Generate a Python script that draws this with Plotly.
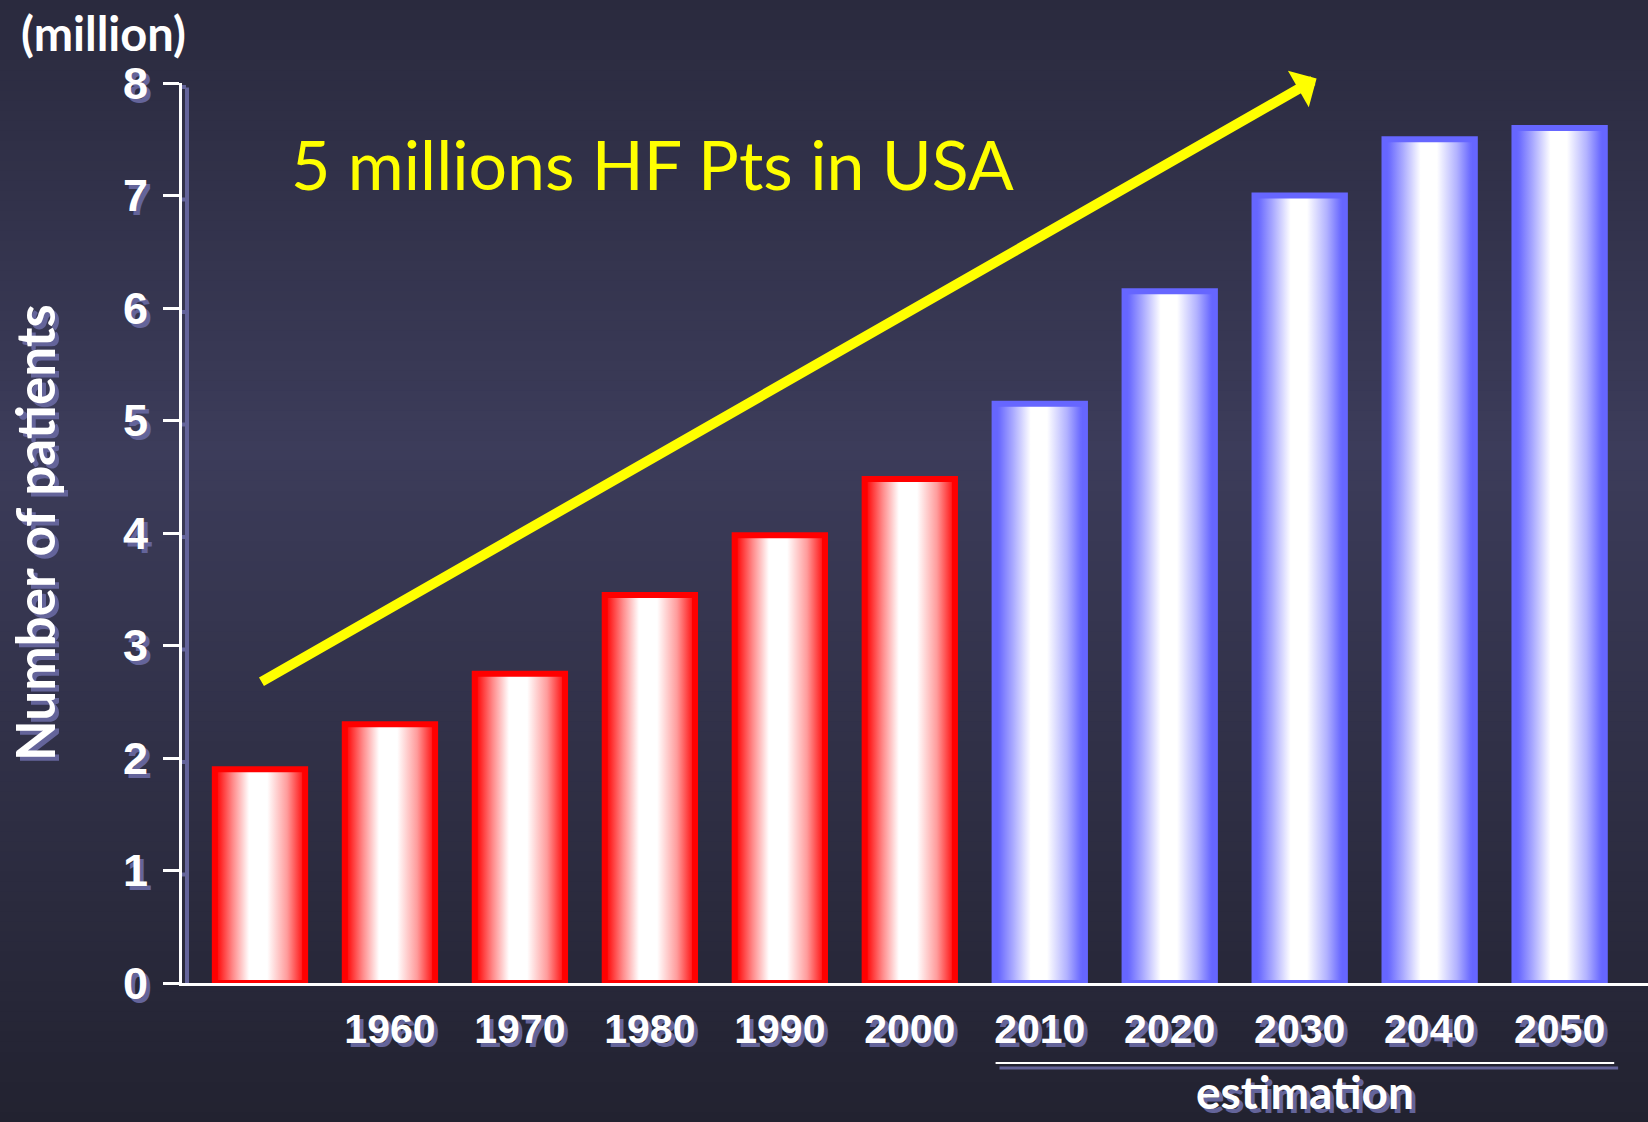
import plotly.graph_objects as go

# ---- data -------------------------------------------------------------
years_observed = [1950, 1960, 1970, 1980, 1990, 2000]
patients_observed = [1.9, 2.3, 2.75, 3.45, 3.98, 4.48]
years_estimated = [2010, 2020, 2030, 2040, 2050]
patients_estimated = [5.15, 6.15, 7.0, 7.5, 7.6]
x_tick_years = [1960, 1970, 1980, 1990, 2000, 2010, 2020, 2030, 2040, 2050]
y_ticks = [0, 1, 2, 3, 4, 5, 6, 7, 8]

# trend arrow (from, to) in data units
arrow_start = (1950, 2.67)
arrow_end = (2031.3, 8.04)

# ---- style ------------------------------------------------------------
W, H = 1648, 1122
M_L, M_R, M_T, M_B = 182, 0, 83, 139
PLOT_W = W - M_L - M_R
PLOT_H = H - M_T - M_B
X_RANGE = [1944, 2056.8]
Y_RANGE = [0, 8]
BAR_W = 6.95
SHADOW = "#64649a"
SHADOW_TXT = "4px 4px 0px #64649a"

RED = "#ff0000"
BLUE = "#6666ff"
red_scale = [[0, "#ff0000"], [0.05, "#ff1c1c"], [0.2, "#ff8a8a"], [0.38, "#ffffff"],
             [0.58, "#ffffff"], [0.8, "#ff9c9c"], [0.95, "#ff2a2a"], [1, "#ff0000"]]
blue_scale = [[0, "#6666ff"], [0.05, "#6b6bff"], [0.2, "#a8a8ff"], [0.4, "#ffffff"],
              [0.58, "#ffffff"], [0.8, "#b2b2ff"], [0.95, "#6c6cff"], [1, "#6666ff"]]

# background: vertical gradient keyframes (pixel-y fraction, rgb)
bg_keys = [(0.0, (42, 42, 62)), (0.4, (60, 60, 90)), (1.0, (34, 34, 48))]


def bg_color(t):
    for (t0, c0), (t1, c1) in zip(bg_keys[:-1], bg_keys[1:]):
        if t0 <= t <= t1:
            f = (t - t0) / (t1 - t0)
            c = [round(a + (b - a) * f) for a, b in zip(c0, c1)]
            return "rgb({},{},{})".format(*c)
    return "rgb({},{},{})".format(*bg_keys[-1][1])


def paper_x(px):
    return (px - M_L) / PLOT_W


def paper_y(py):
    return (H - M_B - py) / PLOT_H


fig = go.Figure()


def add_bars(xs, vals, scale, edge):
    for x, v in zip(xs, vals):
        x0, x1 = x - BAR_W / 2, x + BAR_W / 2
        fig.add_trace(go.Scatter(
            x=[x0, x0, x1, x1, x0], y=[0, v, v, 0, 0],
            mode="lines", fill="toself",
            fillgradient=dict(type="horizontal", colorscale=scale),
            line=dict(color=edge, width=6),
            hoverinfo="skip", showlegend=False,
        ))


add_bars(years_observed, patients_observed, red_scale, RED)
add_bars(years_estimated, patients_estimated, blue_scale, BLUE)

shapes = []
# background stripes
n_str = 112
for i in range(n_str):
    p0 = i * H / n_str
    p1 = (i + 1) * H / n_str + 1
    shapes.append(dict(type="rect", xref="paper", yref="paper", layer="below",
                       x0=paper_x(0), x1=paper_x(W), y0=paper_y(p1), y1=paper_y(p0),
                       line=dict(width=0), fillcolor=bg_color((p0 + p1) / 2 / H)))

# axis shadows
shapes.append(dict(type="line", layer="below", xref="x", xsizemode="pixel", xanchor=X_RANGE[0],
                   x0=5, x1=5, yref="y", y0=-0.04, y1=7.96,
                   line=dict(color=SHADOW, width=4)))
shapes.append(dict(type="line", layer="below", xref="paper", x0=paper_x(170), x1=1,
                   yref="y", ysizemode="pixel", yanchor=0, y0=-5, y1=-5,
                   line=dict(color=SHADOW, width=4)))
for t in y_ticks[1:]:
    shapes.append(dict(type="line", layer="below", xref="x", xsizemode="pixel", xanchor=X_RANGE[0],
                       x0=-12, x1=4, yref="y", ysizemode="pixel", yanchor=t, y0=-4, y1=-4,
                       line=dict(color=SHADOW, width=4)))

# "estimation" bracket line with its shadow
est_x0, est_x1 = years_estimated[0] - 3.4, years_estimated[-1] + 4.2
shapes.append(dict(type="line", xref="x", x0=est_x0 + 0.3, x1=est_x1 + 0.3,
                   yref="paper", y0=paper_y(1068), y1=paper_y(1068),
                   line=dict(color=SHADOW, width=3)))
shapes.append(dict(type="line", xref="x", x0=est_x0, x1=est_x1,
                   yref="paper", y0=paper_y(1063), y1=paper_y(1063),
                   line=dict(color="white", width=2)))

annotations = [
    dict(text="(million)", xref="paper", yref="paper", x=paper_x(19), y=paper_y(33),
         xanchor="left", yanchor="middle", showarrow=False,
         font=dict(family="Lato", size=47, color="white", weight="bold")),
    dict(text="Number of patients", xref="paper", yref="paper", x=paper_x(34), y=paper_y(533),
         xanchor="center", yanchor="middle", textangle=-90, showarrow=False,
         font=dict(family="Lato", size=53, color="white", weight="bold",
                   shadow="-4px 4px 0px #64649a")),
    dict(text="5 millions HF Pts in USA", xref="paper", yref="paper", x=paper_x(289), y=paper_y(163),
         xanchor="left", yanchor="middle", showarrow=False,
         font=dict(family="Lato", size=68, color="#ffff00")),
    dict(text="estimation", xref="x", yref="paper", x=(est_x0 + est_x1) / 2, y=paper_y(1121),
         xanchor="center", yanchor="bottom", showarrow=False,
         font=dict(family="Lato", size=46, color="white", weight="bold", shadow=SHADOW_TXT)),
    dict(text="", x=arrow_end[0], y=arrow_end[1], xref="x", yref="y",
         ax=arrow_start[0], ay=arrow_start[1], axref="x", ayref="y",
         showarrow=True, arrowcolor="#ffff00", arrowwidth=10, arrowhead=1, arrowsize=0.7),
]

fig.update_layout(
    width=W, height=H, autosize=False,
    margin=dict(l=M_L, r=M_R, t=M_T, b=M_B, pad=0),
    paper_bgcolor="rgb(42,42,60)", plot_bgcolor="rgba(0,0,0,0)",
    showlegend=False,
    shapes=shapes, annotations=annotations,
    xaxis=dict(range=X_RANGE, showgrid=False, zeroline=False,
               showline=True, linecolor="white", linewidth=3,
               tickmode="array", tickvals=x_tick_years, ticktext=[str(v) for v in x_tick_years],
               ticks="outside", ticklen=0, ticklabelstandoff=8,
               tickfont=dict(family="Liberation Sans", size=41, color="white", weight="bold",
                             shadow=SHADOW_TXT)),
    yaxis=dict(range=Y_RANGE, showgrid=False, zeroline=False,
               showline=True, linecolor="white", linewidth=3,
               tickmode="array", tickvals=y_ticks,
               ticks="outside", ticklen=16, tickwidth=3, tickcolor="white",
               ticklabelstandoff=6,
               tickfont=dict(family="Liberation Sans", size=45, color="white", weight="bold",
                             shadow=SHADOW_TXT)),
)

fig.write_html("out.html")
